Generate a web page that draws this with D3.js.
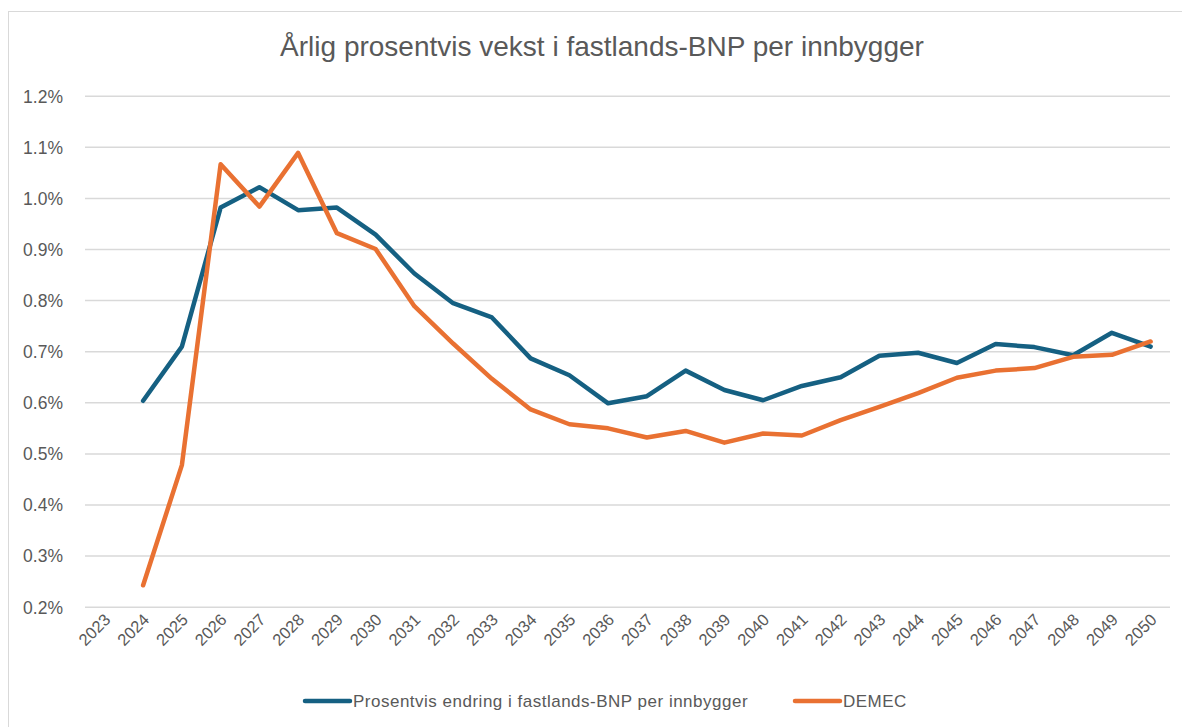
<!DOCTYPE html>
<html><head><meta charset="utf-8">
<script src="https://cdn.jsdelivr.net/npm/d3@7"></script>
<style>body{margin:0;background:#fff}svg{display:block}</style>
</head><body>
<svg id="c" width="1182" height="727"></svg>
<script>
const title = "Årlig prosentvis vekst i fastlands-BNP per innbygger";
const years = ["2023","2024","2025","2026","2027","2028","2029","2030","2031","2032","2033","2034","2035","2036","2037","2038","2039","2040","2041","2042","2043","2044","2045","2046","2047","2048","2049","2050"];
const seriesNames = ["Prosentvis endring i fastlands-BNP per innbygger", "DEMEC"];
const bnp = [null,0.603,0.709,0.981,1.021,0.976,0.981,0.928,0.852,0.794,0.766,0.686,0.653,0.598,0.612,0.662,0.624,0.604,0.632,0.649,0.691,0.697,0.677,0.714,0.708,0.692,0.736,0.709];
const demec = [null,0.242,0.477,1.066,0.983,1.088,0.931,0.900,0.788,0.715,0.646,0.586,0.557,0.549,0.531,0.544,0.521,0.539,0.535,0.565,0.591,0.618,0.648,0.662,0.667,0.689,0.693,0.719];
const yTicks = [0.2,0.3,0.4,0.5,0.6,0.7,0.8,0.9,1.0,1.1,1.2];
const colors = ["#156082","#E97132"];

const svg = d3.select("#c");
svg.append("rect").attr("x",8.5).attr("y",11.5).attr("width",1200).attr("height",800)
  .attr("fill","#fff").attr("stroke","#d9d9d9").attr("stroke-width",1);

const L=85, R=1170, T=95.7, B=606.7;
const x = d3.scaleBand().domain(years).range([L,R]).padding(0);
const y = d3.scaleLinear().domain([0.2,1.2]).range([B,T]);

svg.append("text").attr("x",602).attr("y",56).attr("text-anchor","middle")
  .attr("font-family","Liberation Sans, Arial, sans-serif").attr("font-size",28)
  .attr("fill","#595959").text(title);

const gy = svg.append("g").attr("transform",`translate(${L},0)`)
  .call(d3.axisLeft(y).tickValues(yTicks).tickSize(-(R-L)).tickFormat(d=>d.toFixed(1)+"%"));
gy.select(".domain").remove();
gy.selectAll(".tick line").attr("stroke","#d9d9d9").attr("stroke-width",1.5);
gy.selectAll(".tick text").attr("x",-22).attr("dy","0.36em").attr("fill","#595959")
  .attr("font-family","Liberation Sans, Arial, sans-serif").attr("font-size",17.5);

const gx = svg.append("g").attr("transform",`translate(0,${B})`)
  .call(d3.axisBottom(x).tickSize(0));
gx.select(".domain").remove();
gx.selectAll(".tick text").attr("fill","#595959")
  .attr("font-family","Liberation Sans, Arial, sans-serif").attr("font-size",16.5)
  .attr("text-anchor","end").attr("dy",null).attr("y",0)
  .attr("transform","translate(7,14) rotate(-45)");

const line = d3.line().defined(d=>d!=null).x((d,i)=>x(years[i])+x.bandwidth()/2).y(d=>y(d));
[bnp, demec].forEach((s,k)=>{
  svg.append("path").datum(s).attr("d",line).attr("fill","none")
    .attr("stroke",colors[k]).attr("stroke-width",4.5)
    .attr("stroke-linejoin","round").attr("stroke-linecap","round");
});

const leg = [{x:305,tx:353},{x:795,tx:843}];
seriesNames.forEach((n,k)=>{
  svg.append("line").attr("x1",leg[k].x).attr("x2",leg[k].x+45).attr("y1",701).attr("y2",701)
    .attr("stroke",colors[k]).attr("stroke-width",4.5).attr("stroke-linecap","round");
  svg.append("text").attr("x",leg[k].tx).attr("y",707)
    .attr("font-family","Liberation Sans, Arial, sans-serif").attr("font-size",17)
    .attr("letter-spacing",0.5)
    .attr("fill","#595959").text(n);
});
</script>
</body></html>
